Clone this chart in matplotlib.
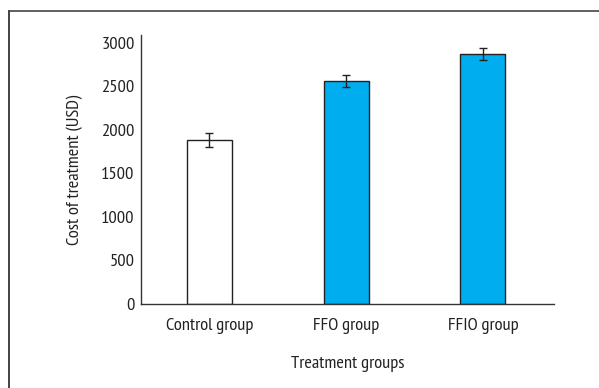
import matplotlib
matplotlib.use("Agg")
import matplotlib.pyplot as plt
from matplotlib.lines import Line2D
from matplotlib import font_manager

categories = ["Control group", "FFO group", "FFIO group"]
values = [1885, 2560, 2875]
errors = [80, 70, 70]
colors = ["white", "#00AEEF", "#00AEEF"]
yticks = [0, 500, 1000, 1500, 2000, 2500, 3000]

available = {f.name for f in font_manager.fontManager.ttflist}
prefs = ["PT Sans Narrow", "Fira Sans Condensed", "Archivo Narrow", "Barlow Semi Condensed", "Barlow Condensed"]
fam = next((p for p in prefs if p in available), "DejaVu Sans")
plt.rcParams['font.family'] = [fam, "DejaVu Sans"]

fig = plt.figure(figsize=(5.99, 3.88), dpi=100)
W, H = 599, 388
ax = fig.add_axes([141 / W, 1 - 304 / H, (554 - 141) / W, (304 - 35) / H])

fs = 13.3
x = list(range(len(categories)))
ax.bar(x, values, width=0.33, color=colors, edgecolor="#222222", linewidth=1.0,
       yerr=errors, error_kw=dict(ecolor="#222222", elinewidth=1.0, capsize=3, capthick=1.0))
ax.set_xlim(-0.5, 2.52)
ax.set_ylim(0, 3090)
ax.set_yticks(yticks)
ax.set_xticks(x)
ax.set_xticklabels(categories, fontsize=fs, color="#222222")
ax.set_yticklabels([str(t) for t in yticks], fontsize=fs, color="#222222")
ax.tick_params(length=0, pad=4.5)
ax.tick_params(axis="x", pad=10)
for s in ["top", "right"]:
    ax.spines[s].set_visible(False)
for s in ["left", "bottom"]:
    ax.spines[s].set_color("#333333")
    ax.spines[s].set_linewidth(1.0)
ax.set_ylabel("Cost of treatment (USD)", fontsize=fs, color="#222222", labelpad=13)
ax.set_xlabel("Treatment groups", fontsize=fs, color="#222222", labelpad=16)

fig.add_artist(Line2D([8.5 / W, 8.5 / W], [0, 1 - 11 / H], transform=fig.transFigure,
                      color="#222222", linewidth=1.2))
fig.add_artist(Line2D([8.5 / W, 1], [1 - 11 / H, 1 - 11 / H], transform=fig.transFigure,
                      color="#444444", linewidth=1.2))

fig.savefig("out.png", dpi=100)
